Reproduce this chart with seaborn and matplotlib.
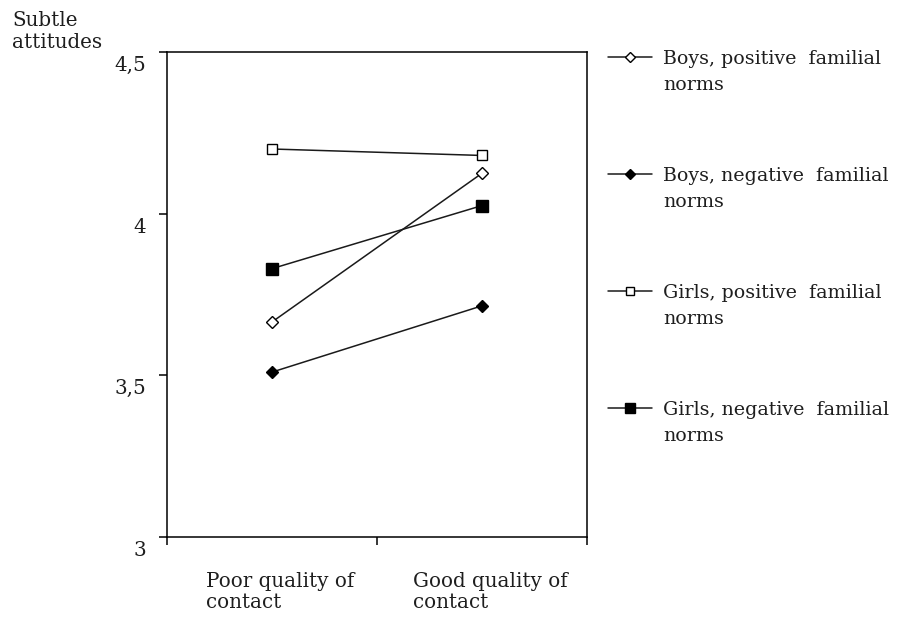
import numpy as np
import matplotlib
matplotlib.use("Agg")
import matplotlib.pyplot as plt
import matplotlib.transforms as mtransforms
from matplotlib.lines import Line2D
import seaborn as sns

# datos
contact = ["Poor quality of\ncontact", "Good quality of\ncontact"]
series_names = ["Boys, positive  familial", "Boys, negative  familial",
                "Girls, positive  familial", "Girls, negative  familial"]
boys_pos = [3.665, 4.125]
boys_neg = [3.51, 3.715]
girls_pos = [4.20, 4.18]
girls_neg = [3.83, 4.025]
y_ticks = [3, 3.5, 4, 4.5]
y_tick_labels = ["3", "3,5", "4", "4,5"]

sns.set_theme(style="white")
plt.rcParams["font.family"] = ["DejaVu Serif"]
fs = 14.3
fs_leg = 13.7
txt = "#1e1e1e"

fig = plt.figure(figsize=(8.99, 6.18), dpi=100)
ax = fig.add_axes([167 / 899, 1 - 537 / 618, 420 / 899, 485 / 618])

xpos = np.arange(len(contact)) + 0.5
styles = [
    (boys_pos, "D", "white", 6),
    (boys_neg, "D", "black", 6),
    (girls_pos, "s", "white", 7.5),
    (girls_neg, "s", "black", 9),
]
handles = []
for (vals, mk, fc, ms) in styles:
    sns.lineplot(x=xpos, y=vals, ax=ax, color="#1a1a1a", linewidth=1.1,
                 marker=mk, markersize=ms, markerfacecolor=fc,
                 markeredgecolor="black", markeredgewidth=1.0)
    handles.append(Line2D([], [], color="#1a1a1a", linewidth=1.1, marker=mk,
                          markersize=ms * 0.85, markerfacecolor=fc,
                          markeredgecolor="black", markeredgewidth=1.0))

ax.set_xlim(0, 2)
ax.set_ylim(3, 4.5)
ax.set_xticks([0, 1, 2])
ax.set_xticklabels([])
ax.set_yticks(y_ticks)
ax.set_yticklabels(y_tick_labels, fontsize=fs, color=txt, va="top")
ax.tick_params(axis="both", bottom=True, left=True, direction="out",
               length=6, width=1.1, color="black", pad=9)
# bajar un poco las etiquetas del eje y
off = mtransforms.ScaledTranslation(0, -4 / 100, fig.dpi_scale_trans)
for lab in ax.get_yticklabels():
    lab.set_transform(lab.get_transform() + off)
ax.set_xlabel("")
ax.set_ylabel("")
for sp in ax.spines.values():
    sp.set_color("black")
    sp.set_linewidth(1.1)

# etiquetas de categorias
lab_tr = mtransforms.offset_copy(ax.get_xaxis_transform(), fig=fig, x=8, y=-35, units="dots")
for x, lab in zip(xpos, contact):
    ax.text(x, 0, lab, transform=lab_tr, ha="center", va="top",
            multialignment="left", fontsize=fs, color=txt, linespacing=1.1)

fig.text(12 / 899, 1 - 11 / 618, "Subtle\nattitudes", ha="left", va="top",
         fontsize=fs, color=txt, linespacing=1.2)

leg = fig.legend(handles, series_names, loc="upper left",
                 bbox_to_anchor=(608 / 899, 1 - 50 / 618), frameon=False,
                 fontsize=fs_leg, handlelength=2.3, handletextpad=0.6,
                 labelspacing=5.2, borderpad=0, borderaxespad=0)
for t in leg.get_texts():
    t.set_color(txt)

fig.canvas.draw()
for t in leg.get_texts():
    bb = t.get_window_extent()
    fig.text(bb.x0, bb.y0 - 26, "norms", transform=mtransforms.IdentityTransform(),
             ha="left", va="bottom", fontsize=fs_leg, color=txt)

fig.savefig("out.png", dpi=100)
